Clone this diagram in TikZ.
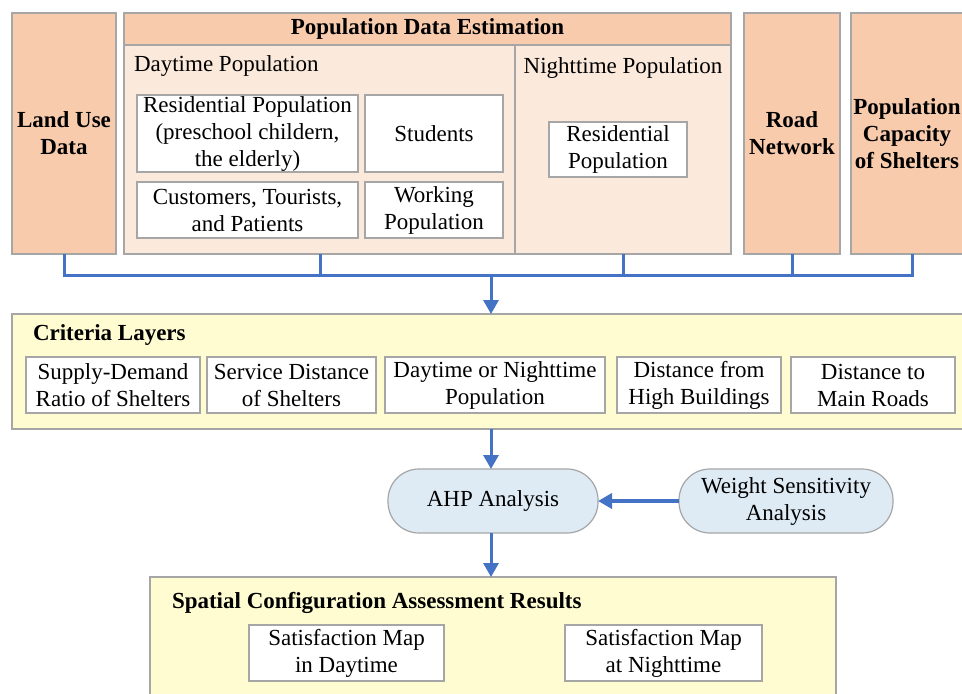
\documentclass[tikz,border=0pt]{standalone}
\usepackage{fontspec}
\setmainfont{LiberationSerif}[Extension=.ttf, UprightFont=*-Regular, BoldFont=*-Bold, ItalicFont=*-Italic, BoldItalicFont=*-BoldItalic]
\usetikzlibrary{arrows.meta}
\definecolor{orangeA}{HTML}{F8CBAD}
\definecolor{orangeB}{HTML}{FBE9DC}
\definecolor{edgeg}{HTML}{A6A6A6}
\definecolor{blueL}{HTML}{4472C4}
\definecolor{yellowL}{HTML}{FEFCD0}
\definecolor{blueF}{HTML}{DEEBF5}
\begin{document}
\begin{tikzpicture}[x=1pt,y=-1pt,
  every node/.style={inner sep=0pt, outer sep=0pt, font=\rmfamily\fontsize{23}{27}\selectfont, align=center, text=black},
  box/.style={draw=edgeg, line width=1.2pt, anchor=north west},
  obox/.style={box, fill=orangeA, font=\rmfamily\fontsize{23}{27}\selectfont\bfseries},
  wbox/.style={box, fill=white},
  ybox/.style={box, fill=yellowL},
  pill/.style={box, fill=blueF, rounded corners=31pt},
  lbl/.style={anchor=west},
  blbl/.style={anchor=west, font=\rmfamily\fontsize{23}{27}\selectfont\bfseries},
  conn/.style={draw=blueL, line width=3pt, line join=miter},
  arr/.style={conn, -{Triangle[length=14pt,width=15pt]}}
]
\useasboundingbox (0,0) rectangle (962,694);
\clip (0,0) rectangle (962,694);
\fill[white] (0,0) rectangle (962,694);

% top row
\node[obox, minimum width=104pt, minimum height=241pt] (land) at (12,13) {Land Use\\Data};
\node[box, fill=orangeB, minimum width=607pt, minimum height=241pt] (pde) at (124,13) {};
\node[obox, minimum width=607pt, minimum height=32pt] (pdeh) at (124,13) {Population Data Estimation};
\draw[draw=edgeg, line width=1.2pt] (515,45) -- (515,254);
\node[lbl] (dayt) at (134,66) {Daytime Population};
\node[wbox, minimum width=221pt, minimum height=77pt] (res) at (137,95) {Residential Population\\(preschool childern,\\the elderly)};
\node[wbox, minimum width=138pt, minimum height=77pt] (stud) at (365,95) {Students};
\node[wbox, minimum width=221pt, minimum height=56pt] (cust) at (137,182) {Customers, Tourists,\\and Patients};
\node[wbox, minimum width=138pt, minimum height=56pt] (work) at (365,182) {Working\\Population};
\node (nightt) at (623,68) {Nighttime Population};
\node[wbox, minimum width=138pt, minimum height=55pt] (nres) at (549,122) {Residential\\Population};
\node[obox, minimum width=96pt, minimum height=241pt] (road) at (744,13) {Road\\Network};
\node[obox, minimum width=112pt, minimum height=241pt] (cap) at (851,13) {Population\\Capacity\\of Shelters};

% bus
\coordinate (j) at (491,275);
\coordinate (dayB) at (320,254);
\coordinate (nightB) at (623,254);
\coordinate (capB) at (912,254);
\draw[conn] (land.south) |- (j);
\draw[conn] (capB) |- (j);
\draw[conn] (dayB) -- (dayB |- j);
\draw[conn] (nightB) -- (nightB |- j);
\draw[conn] (road.south) -- (road.south |- j);

% criteria
\node[ybox, minimum width=970pt, minimum height=115pt] (crit) at (12,314) {};
\draw[arr] (j) -- (j |- crit.north);
\node[blbl] (critl) at (33,335) {Criteria Layers};
\node[wbox, minimum width=174pt, minimum height=56pt] (c1) at (26,357) {Supply-Demand\\Ratio of Shelters};
\node[wbox, minimum width=169pt, minimum height=56pt] (c2) at (207,357) {Service Distance\\of Shelters};
\node[wbox, minimum width=220pt, minimum height=56pt] (c3) at (385,357) {Daytime or Nighttime\\Population};
\node[wbox, minimum width=164pt, minimum height=56pt] (c4) at (617,357) {Distance from\\High Buildings};
\node[wbox, minimum width=164pt, minimum height=56pt] (c5) at (791,357) {Distance to\\Main Roads};

% AHP
\node[pill, minimum width=210pt, minimum height=64pt] (ahp) at (388,469) {AHP Analysis};
\node[pill, minimum width=214pt, minimum height=64pt] (wsa) at (679,469) {Weight Sensitivity\\Analysis};
\draw[arr] (j |- crit.south) -- (j |- ahp.north);
\draw[arr, line width=3.5pt] (wsa.west) -- (ahp.east);

% results
\node[ybox, minimum width=686pt, minimum height=140pt] (resu) at (150,577) {};
\draw[arr] (j |- ahp.south) -- (j |- resu.north);
\node[blbl] (resl) at (172,603) {Spatial Configuration Assessment Results};
\node[wbox, minimum width=195pt, minimum height=56pt] (s1) at (249,625) {Satisfaction Map\\in Daytime};
\node[wbox, minimum width=197pt, minimum height=56pt] (s2) at (565,625) {Satisfaction Map\\at Nighttime};
\end{tikzpicture}
\end{document}
